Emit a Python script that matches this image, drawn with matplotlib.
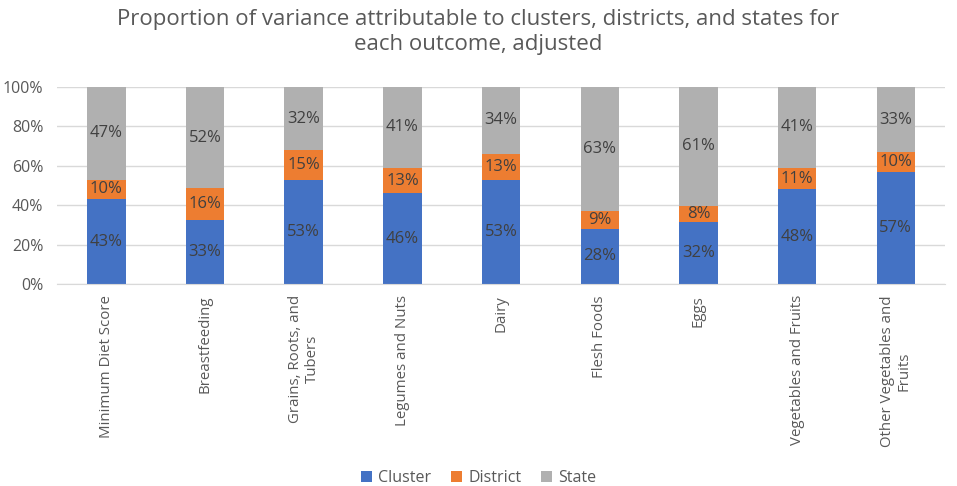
import matplotlib
matplotlib.use("Agg")
import matplotlib.pyplot as plt
import numpy as np

categories = ["Minimum Diet Score", "Breastfeeding", "Grains, Roots, and\nTubers",
              "Legumes and Nuts", "Dairy", "Flesh Foods", "Eggs",
              "Vegetables and Fruits", "Other Vegetables and\nFruits"]
cluster = [43, 33, 53, 46, 53, 28, 32, 48, 57]
district = [10, 16, 15, 13, 13, 9, 8, 11, 10]
state = [47, 52, 32, 41, 34, 63, 61, 41, 33]
series_names = ["Cluster", "District", "State"]
colors = ["#4472C4", "#ED7D31", "#B0B0B0"]
yticks = [0, 20, 40, 60, 80, 100]

plt.rcParams['font.family'] = ['Open Sans', 'DejaVu Sans']

fig = plt.figure(figsize=(9.57, 4.86), dpi=100)
ax = fig.add_axes([0.0596, 0.4156, 0.928, 0.4054])

data = np.array([cluster, district, state], dtype=float)
totals = data.sum(axis=0)
norm = data / totals * 100
x = np.arange(len(categories))
bottom = np.zeros(len(categories))
for i, name in enumerate(series_names):
    bars = ax.bar(x, norm[i], 0.39, bottom=bottom, color=colors[i], label=name, zorder=2)
    for j, b in enumerate(bars):
        ax.text(b.get_x() + b.get_width() / 2, bottom[j] + norm[i][j] / 2,
                f"{int(data[i][j])}%", ha="center", va="center",
                fontsize=12, color="#404040", zorder=3)
    bottom += norm[i]

ax.set_xlim(-0.5, len(categories) - 0.5)
ax.set_ylim(0, 100)
ax.set_yticks(yticks)
ax.set_yticklabels([f"{v}%" for v in yticks], fontsize=11.5, color="#595959")
ax.set_xticks(x)
ax.set_xticklabels(categories, rotation=90, fontsize=10.8, color="#595959",
                   ha="center", va="top", multialignment="center")
ax.tick_params(axis="both", length=0)
ax.tick_params(axis="x", pad=8)
ax.tick_params(axis="y", pad=10)
ax.yaxis.grid(True, color="#D9D9D9", linewidth=1, zorder=0)
for s in ["top", "right", "left"]:
    ax.spines[s].set_visible(False)
ax.spines["bottom"].set_color("#D9D9D9")

fig.text(0.5, 0.982, "Proportion of variance attributable to clusters, districts, and states for\neach outcome, adjusted",
         ha="center", va="top", fontsize=16, color="#595959", linespacing=1.25)

fig.legend(loc="lower center", bbox_to_anchor=(0.5, -0.03), ncol=3, frameon=False,
           fontsize=11.5, handlelength=0.7, handleheight=0.7, handletextpad=0.4,
           columnspacing=1.2, labelcolor="#595959")

fig.savefig("out.png", dpi=100)
